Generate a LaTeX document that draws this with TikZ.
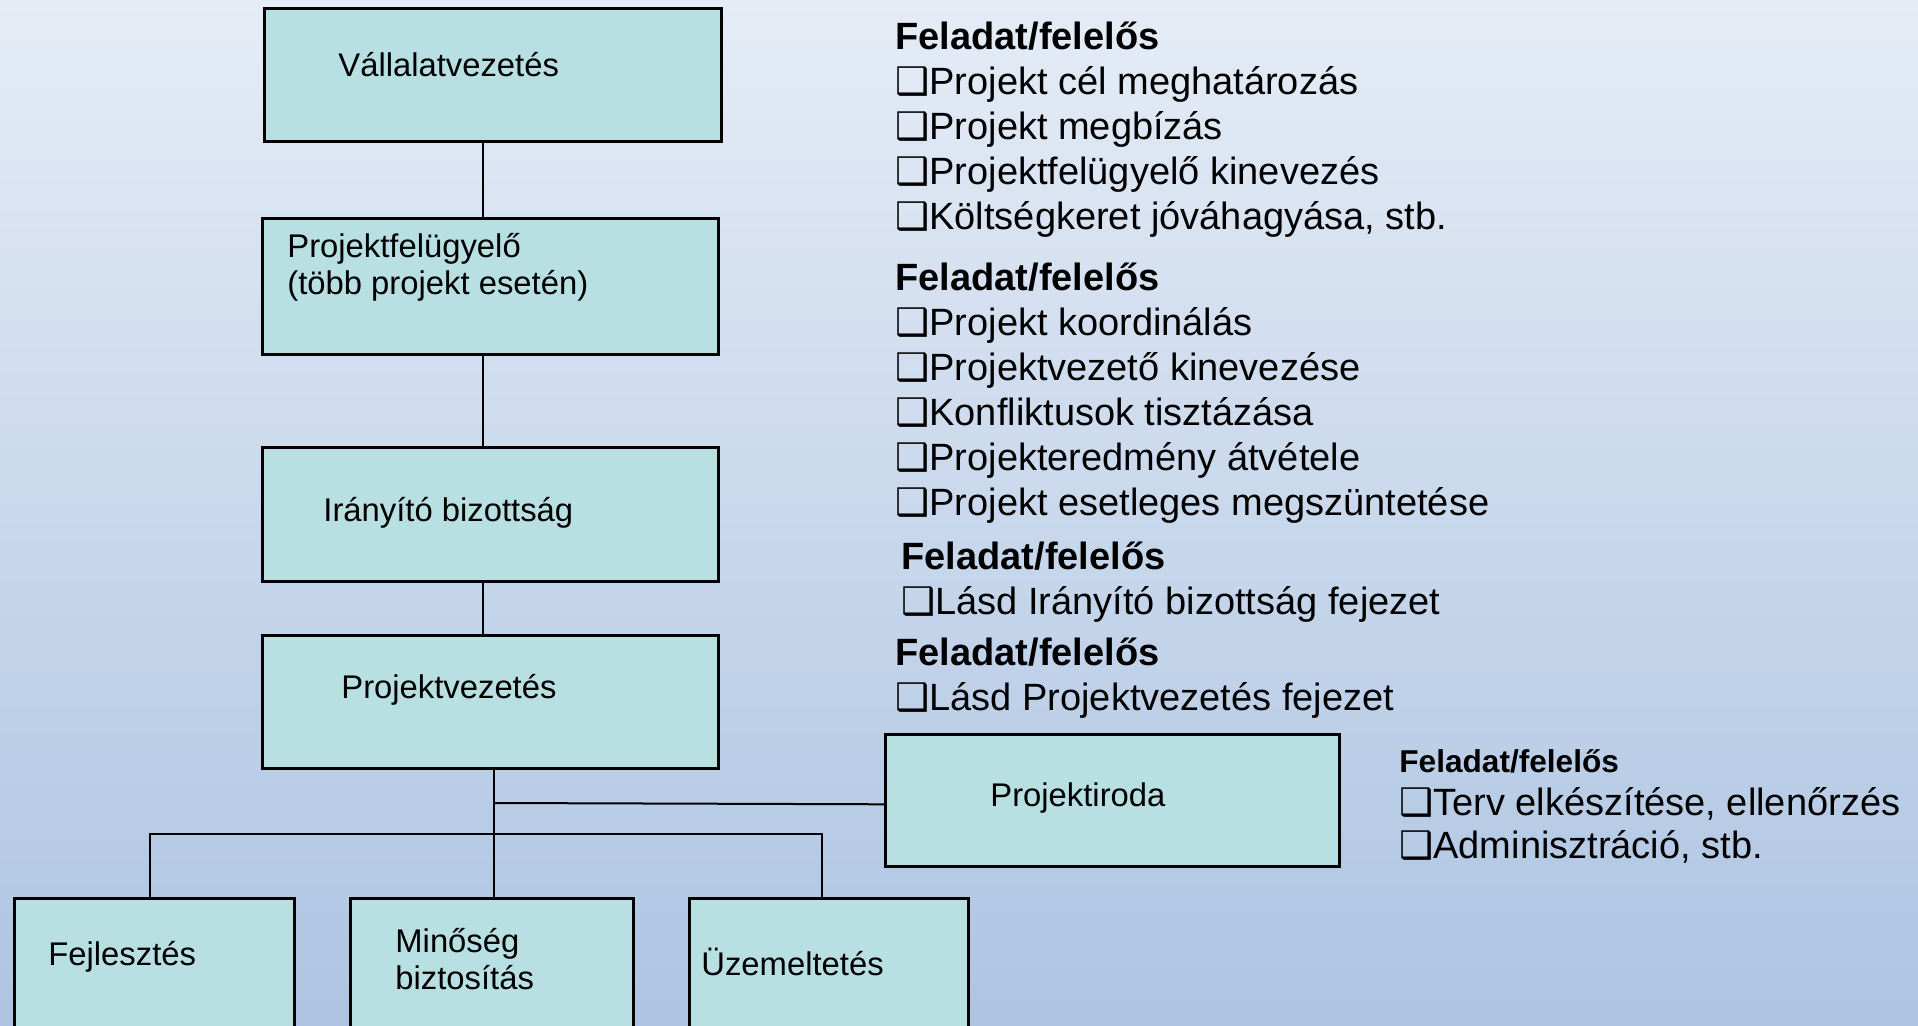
\documentclass[tikz,border=0pt]{standalone}
\usepackage{fontspec}
\setmainfont{Liberation Sans}
\newfontfamily\symfont{DejaVu Sans}
\usepackage{tikz}
\usetikzlibrary{positioning}
\definecolor{boxfill}{RGB}{184,223,226}
\definecolor{bgtop}{RGB}{229,236,246}
\definecolor{bgbottom}{RGB}{173,196,226}
\newcommand{\chk}{{\symfont ❑}}
\newcommand{\stack}[1]{\begin{tabular}[t]{@{}l@{}}#1\end{tabular}}
\tikzstyle{box} = [rectangle, anchor=north west, draw=black, line width=1.3pt, fill=boxfill]
\tikzstyle{boxtext} = [anchor=base west, inner sep=0pt, font=\fontsize{16.4}{18.5}\selectfont]
\tikzstyle{duty} = [anchor=base west, inner sep=0pt, font=\fontsize{19}{22.5}\selectfont]
\tikzstyle{conn} = [draw=black, line width=1pt]

\begin{document}
\begin{tikzpicture}[x=0.5pt, y=-0.5pt]
\shade[top color=bgtop, bottom color=bgbottom] (0,0) rectangle (1918,1026);
\useasboundingbox (0,0) rectangle (1918,1026);
\clip (0,0) rectangle (1918,1026);

\node (b1) [box, minimum width=228.5pt, minimum height=66.5pt] at (263,7) {};
\node (b2) [box, minimum width=228pt, minimum height=68pt] at (261,217) {};
\node (b3) [box, minimum width=228pt, minimum height=67pt] at (261,446) {};
\node (b4) [box, minimum width=228pt, minimum height=66.5pt] at (261,634) {};
\node (b5) [box, minimum width=227pt, minimum height=66pt] at (884,733) {};
\node (b6) [box, minimum width=140pt, minimum height=110pt] at (13,897) {};
\node (b7) [box, minimum width=141.5pt, minimum height=110pt] at (349,897) {};
\node (b8) [box, minimum width=139.5pt, minimum height=110pt] at (688,897) {};

\node (t1) [boxtext] at (338,77) {Vállalatvezetés};
\node (t2) [boxtext] at (287,258) {\stack{Projektfelügyelő\\(több projekt esetén)}};
\node (t3) [boxtext] at (323,522) {Irányító bizottság};
\node (t4) [boxtext] at (341,698) {Projektvezetés};
\node (t5) [boxtext] at (990,806) {Projektiroda};
\node (t6) [boxtext] at (48,965) {Fejlesztés};
\node (t7) [boxtext] at (395,952) {\stack{Minőség\\biztosítás}};
\node (t8) [boxtext] at (701,975) {Üzemeltetés};

\draw[conn] ([xshift=-4.75pt]b1.south) -- ([xshift=-3.5pt]b2.north);
\draw[conn] ([xshift=-3.5pt]b2.south) -- ([xshift=-3.5pt]b3.north);
\draw[conn] ([xshift=-3.5pt]b3.south) -- ([xshift=-3.5pt]b4.north);
\draw[conn] ([xshift=2pt]b4.south) -- ([xshift=1.25pt]b7.north);
\coordinate (j1) at (493,803);
\draw[conn] (j1) -- ([yshift=-2pt]b5.west);
\draw[conn] ([xshift=-2pt]b6.north) -- ++(0,-63) -| ([xshift=-3.5pt]b8.north);

\node (d1) [duty] at (895,50) {\stack{\textbf{Feladat/felelős}\\\chk Projekt cél meghatározás\\\chk Projekt megbízás\\\chk Projektfelügyelő kinevezés\\\chk Költségkeret jóváhagyása, stb.}};
\node (d2) [duty] at (895,291) {\stack{\textbf{Feladat/felelős}\\\chk Projekt koordinálás\\\chk Projektvezető kinevezése\\\chk Konfliktusok tisztázása\\\chk Projekteredmény átvétele\\\chk Projekt esetleges megszüntetése}};
\node (d3) [duty] at (901,570) {\stack{\textbf{Feladat/felelős}\\\chk Lásd Irányító bizottság fejezet}};
\node (d4) [duty] at (895,665) {\stack{\textbf{Feladat/felelős}\\\chk Lásd Projektvezetés fejezet}};
\node (d5) [duty, font=\fontsize{19}{21.5}\selectfont] at (1399,772) {\stack{{\fontsize{15.8}{18}\selectfont\textbf{Feladat/felelős}}\\\chk Terv elkészítése, ellenőrzés\\\chk Adminisztráció, stb.}};
\end{tikzpicture}
\end{document}
